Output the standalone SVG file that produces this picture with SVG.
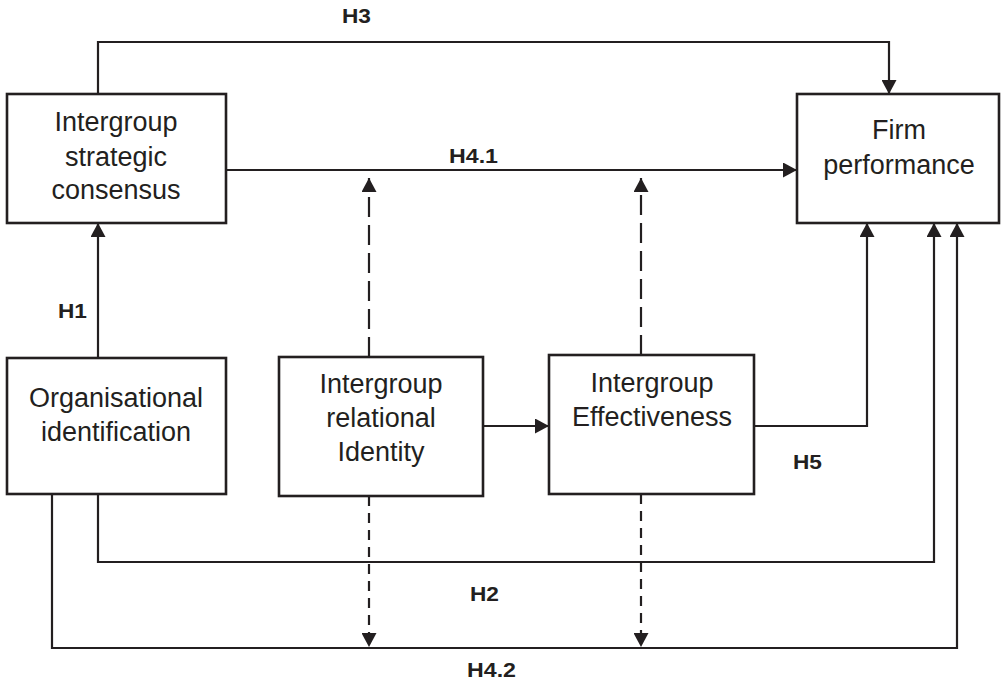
<svg xmlns="http://www.w3.org/2000/svg" width="1001" height="683" viewBox="0 0 1001 683">
<style>
.box{fill:#fff;stroke:#231f20;stroke-width:2.6}
.t{font-family:"Liberation Sans",Arial,sans-serif;font-size:27px;fill:#231f20;text-anchor:middle}
.lbl{font-family:"Liberation Sans",Arial,sans-serif;font-size:21px;font-weight:bold;fill:#231f20}
.ln{fill:none;stroke:#231f20;stroke-width:2.2}
.dl{fill:none;stroke:#231f20;stroke-width:2.2;stroke-dasharray:20 8}
.ds{fill:none;stroke:#231f20;stroke-width:2.2;stroke-dasharray:10 7}
</style>
<defs>
<marker id="ah" viewBox="0 0 14 15" refX="14" refY="7.5" markerWidth="14" markerHeight="15" markerUnits="userSpaceOnUse" orient="auto">
<path d="M0,0 L14,7.5 L0,15 z" fill="#231f20"/>
</marker>
</defs>
<rect width="1001" height="683" fill="#fff"/>
<g id="connectors">
<path class="ln" d="M98,94 V42 H889 V94" marker-end="url(#ah)"/>
<path class="ln" d="M226,170 H797" marker-end="url(#ah)"/>
<path class="ln" d="M98,358 V223" marker-end="url(#ah)"/>
<path class="ln" d="M483,426 H549" marker-end="url(#ah)"/>
<path class="ln" d="M754,426 H867 V223" marker-end="url(#ah)"/>
<path class="ln" d="M98,494 V562 H934 V223" marker-end="url(#ah)"/>
<path class="ln" d="M52,494 V648 H957 V223" marker-end="url(#ah)"/>
<path class="dl" d="M369,357 V178" marker-end="url(#ah)"/>
<path class="dl" d="M641,355 V178" marker-end="url(#ah)"/>
<path class="ds" d="M369,496 V647" marker-end="url(#ah)"/>
<path class="ds" d="M641,494 V647" marker-end="url(#ah)"/>
<text class="lbl" x="342" y="23" textLength="29" lengthAdjust="spacingAndGlyphs">H3</text>
<text class="lbl" x="449" y="163" textLength="49" lengthAdjust="spacingAndGlyphs">H4.1</text>
<text class="lbl" x="58" y="318" textLength="29" lengthAdjust="spacingAndGlyphs">H1</text>
<text class="lbl" x="793" y="469" textLength="29" lengthAdjust="spacingAndGlyphs">H5</text>
<text class="lbl" x="470" y="601" textLength="29" lengthAdjust="spacingAndGlyphs">H2</text>
<text class="lbl" x="467" y="677" textLength="49" lengthAdjust="spacingAndGlyphs">H4.2</text>
</g>
<g id="consensus">
<rect class="box" x="7" y="94" width="219" height="129"/>
<text class="t" x="116" y="131">Intergroup</text>
<text class="t" x="116" y="166">strategic</text>
<text class="t" x="116" y="199">consensus</text>
</g>
<g id="firm">
<rect class="box" x="797" y="94" width="202" height="129"/>
<text class="t" x="899" y="139">Firm</text>
<text class="t" x="899" y="174">performance</text>
</g>
<g id="orgid">
<rect class="box" x="7" y="358" width="219" height="136"/>
<text class="t" x="116" y="407">Organisational</text>
<text class="t" x="116" y="441">identification</text>
</g>
<g id="relational">
<rect class="box" x="279" y="357" width="204" height="139"/>
<text class="t" x="381" y="393">Intergroup</text>
<text class="t" x="381" y="427">relational</text>
<text class="t" x="381" y="461">Identity</text>
</g>
<g id="effectiveness">
<rect class="box" x="549" y="355" width="205" height="139"/>
<text class="t" x="652" y="392">Intergroup</text>
<text class="t" x="652" y="426">Effectiveness</text>
</g>
</svg>
